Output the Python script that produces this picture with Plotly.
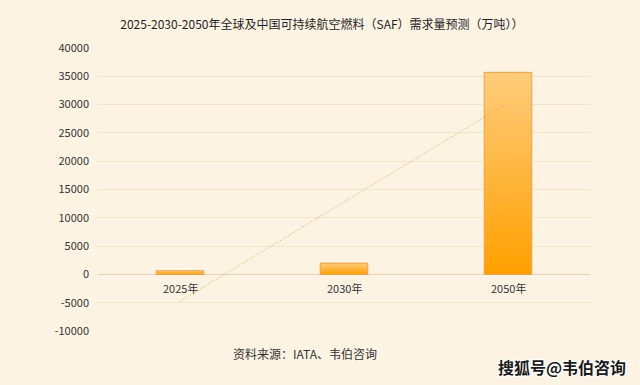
import numpy as np
import plotly.graph_objects as go

categories = ["2025年", "2030年", "2050年"]
demand = [650, 2000, 35700]
y_ticks = [-10000, -5000, 0, 5000, 10000, 15000, 20000, 25000, 30000, 35000, 40000]
y_tick_labels = [str(t) for t in y_ticks]

title = "2025-2030-2050年全球及中国可持续航空燃料（SAF）需求量预测（万吨））"
source = "资料来源：IATA、韦伯咨询"
watermark = "搜狐号@韦伯咨询"

FONT = "Noto Sans CJK SC"
BG = "#fdf3e3"

idx = np.arange(len(categories))
half = 0.145

fig = go.Figure()
for i, v in zip(idx, demand):
    fig.add_trace(go.Scatter(
        x=[i - half, i + half, i + half, i - half, i - half],
        y=[0, 0, v, v, 0],
        mode="lines", fill="toself",
        line=dict(color="#e8a24a", width=1),
        fillgradient=dict(type="vertical",
                          colorscale=[[0, "#ffa000"], [1, "#ffcc7c"]]),
        hoverinfo="skip", showlegend=False,
    ))

# linear trendline fitted to the data
k, b = np.polyfit(idx, demand, 1)
fig.add_trace(go.Scatter(
    x=idx, y=k * idx + b, mode="lines",
    line=dict(color="#f0a040", width=1, dash="1px,2px"),
    hoverinfo="skip", showlegend=False,
))

fig.update_layout(
    width=640, height=385,
    paper_bgcolor=BG, plot_bgcolor=BG,
    margin=dict(l=98, r=50, t=48, b=54),
    font=dict(family=FONT, color="#333333", size=11),
    title=dict(text=title, x=0.503, xanchor="center", y=0.935, yanchor="middle",
               font=dict(size=12, color="#1e1e1e", family=FONT)),
    showlegend=False,
)
fig.update_xaxes(
    range=[-0.5, 2.5], showticklabels=False,
    showgrid=False, zeroline=False, showline=False, ticks="",
)
fig.update_yaxes(
    range=[-10000, 40000], tickvals=y_ticks, ticktext=y_tick_labels,
    showgrid=True, gridcolor="#f4e4cc", gridwidth=1,
    zeroline=True, zerolinecolor="#e2d2ba", zerolinewidth=1,
    showline=False, ticks="", ticklabelstandoff=8,
    tickfont=dict(size=11, color="#333333"),
)
# category labels sit just below the zero line (axis crosses at 0)
for i, c in zip(idx, categories):
    fig.add_annotation(text=c, x=i, y=0, xref="x", yref="y",
                       xanchor="center", yanchor="top", yshift=-4,
                       showarrow=False,
                       font=dict(size=11, color="#333333", family=FONT))
fig.add_annotation(text=source, xref="paper", yref="paper", x=0.42, y=-0.081,
                   xanchor="center", yanchor="middle", showarrow=False,
                   font=dict(size=12, color="#333333", family=FONT))
fig.add_annotation(text="<b>" + watermark + "</b>", xref="paper", yref="paper",
                   x=1.077, y=-0.127, xanchor="right", yanchor="middle",
                   showarrow=False,
                   font=dict(size=16, color="#1a1a1a", family=FONT,
                             shadow="1px 1px 1px #ffffff, -1px -1px 1px #ffffff, 1px -1px 1px #ffffff, -1px 1px 1px #ffffff"))

fig.write_html("out.html", config={"displayModeBar": False},
               post_script="document.body.style.margin='0';document.body.style.overflow='hidden';")
